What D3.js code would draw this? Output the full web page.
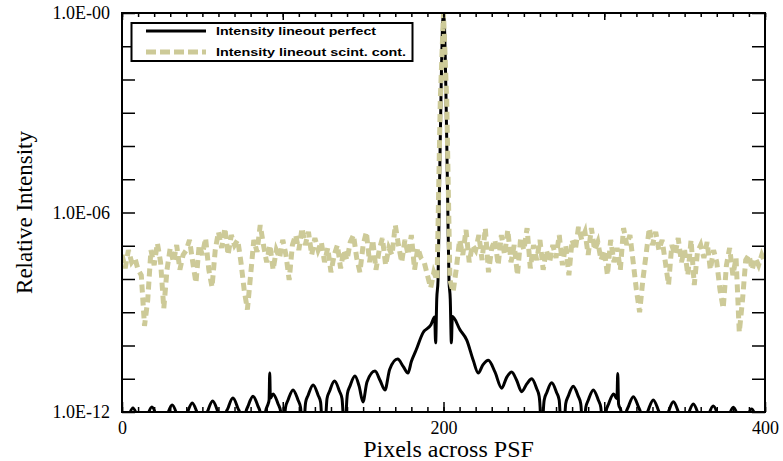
<!DOCTYPE html>
<html>
<head>
<meta charset="utf-8">
<script src="https://cdn.jsdelivr.net/npm/d3@7"></script>
<style>
  html, body { margin: 0; padding: 0; background: #fff; }
  svg { display: block; }
</style>
</head>
<body>
<svg id="chart" width="783" height="461"></svg>
<script>
// Axis definitions
const xDomain = [0, 400];
const yDomain = [1e-12, 1];
const xMinorTicks = d3.range(0, 401, 10);
const xMajorTicks = [0, 100, 200, 300, 400];
const xTickLabels = { 0: "0", 200: "200", 400: "400" };
const yTicks = [1, 1e-1, 1e-2, 1e-3, 1e-4, 1e-5, 1e-6, 1e-7, 1e-8, 1e-9, 1e-10, 1e-11, 1e-12];
const yTickLabels = { 0: "1.0E-00", 6: "1.0E-06", 12: "1.0E-12" };

const xTitle = "Pixels across PSF";
const yTitle = "Relative Intensity";
const seriesNames = ["Intensity lineout perfect", "Intensity lineout scint. cont."];

// Perfect PSF lineout: [pixel, intensity]
const perfect = [
  [0.6,1e-14],[1.4,1.06e-13],[2.15,4.0e-13],[3.7,6.6e-13],[6.8,1.32e-12],[9.9,6.6e-13],[11.45,4.0e-13],[12.2,1.06e-13],[12.6,1e-14],
  [13.2,1.13e-13],[13.95,4.2e-13],[15.5,7.0e-13],[18.6,1.41e-12],[21.7,7.0e-13],[23.25,4.2e-13],[24.0,1.13e-13],[24.9,1e-14],
  [25.8,1.3e-13],[26.55,4.9e-13],[28.1,8.1e-13],[31.2,1.62e-12],[34.3,8.1e-13],[35.85,4.9e-13],[36.6,1.3e-13],[37.5,1e-14],
  [38.3,1.5e-13],[39.05,5.6e-13],[40.6,9.3e-13],[43.7,1.86e-12],[46.8,9.3e-13],[48.35,5.6e-13],[49.1,1.5e-13],[50.0,1e-14],
  [51.0,1.7e-13],[51.75,6.4e-13],[53.3,1.07e-12],[56.4,2.14e-12],[59.5,1.07e-12],[61.05,6.4e-13],[61.8,1.7e-13],[62.7,1e-14],
  [63.6,2.1e-13],[64.35,7.9e-13],[65.9,1.3e-12],[69.0,2.63e-12],[72.1,1.3e-12],[73.65,7.9e-13],[74.4,2.1e-13],[75.2,1e-14],
  [76.1,2.4e-13],[76.85,9.0e-13],[78.4,1.5e-12],[81.5,3.0e-12],[84.6,1.5e-12],[86.15,9.0e-13],[86.9,2.4e-13],[87.7,1e-14],
  [88.6,2.8e-13],[89.35,1.05e-12],[90.9,1.75e-12],[91.5,2.3e-12],[91.9,1.48e-11],[92.3,2.6e-12],[94.0,3.5e-12],[97.1,1.75e-12],[98.65,1.05e-12],[99.4,2.8e-13],[100.2,1e-14],
  [101.0,3.7e-13],[101.75,1.38e-12],[103.3,2.3e-12],[106.4,4.6e-12],[109.5,2.3e-12],[111.05,1.38e-12],[111.8,3.7e-13],[112.6,1e-14],
  [113.5,5.2e-13],[114.25,1.95e-12],[115.8,3.2e-12],[118.9,6.5e-12],[122.0,3.2e-12],[123.55,1.95e-12],[124.3,5.2e-13],[125.6,1e-14],
  [126.8,6.8e-13],[127.55,2.55e-12],[129.1,4.2e-12],[132.2,8.5e-12],[135.3,4.2e-12],[136.85,2.55e-12],[137.6,6.8e-13],[138.7,1e-14],
  [139.5,9.6e-13],[140.25,3.6e-12],[141.8,6.0e-12],[144.9,1.2e-11],[147.5,6.0e-12],[149.9,2.0e-12],
  [152.4,8.0e-12],[157.4,1.7e-11],[160.5,9.0e-12],[163.6,4.6e-12],
  [166.5,1.9e-11],[171.5,3.9e-11],[175.0,2.3e-11],[177.9,1.48e-11],
  [180.0,3.3e-11],[182.9,7.2e-11],[187.2,2.4e-10],[192.2,4.2e-10],[194.5,7.2e-10],[195.1,1.2e-10],
  [195.8,2.5e-9],[196.6,9.3e-9],[197.4,2.4e-6],[198.4,2.4e-3],[199.4,0.4],[200.0,1],
  [200.6,0.4],[201.6,2.4e-3],[202.6,2.4e-6],[203.4,9.3e-9],[204.2,2.5e-9],[204.9,1.2e-10],
  [205.5,7.4e-10],[210.3,2.95e-10],[214.4,1.48e-10],[218.5,3.6e-11],[221.6,1.48e-11],
  [224.5,2.6e-11],[227.9,3.6e-11],[232.0,1.6e-11],[236.2,5.2e-12],
  [239.3,1.1e-11],[242.4,1.6e-11],[245.5,9.0e-12],[248.6,4.1e-12],
  [251.8,7.0e-12],[254.9,1.0e-11],[258.0,5.0e-12],[259.5,3.0e-12],[260.3,8.0e-13],[261.1,1e-14],
  [261.9,6.1e-13],[262.65,2.3e-12],[264.2,3.8e-12],[267.3,7.6e-12],[270.4,3.8e-12],[271.95,2.3e-12],[272.7,6.1e-13],[274.0,1e-14],
  [275.3,4.8e-13],[276.05,1.8e-12],[277.6,3.0e-12],[280.7,6.0e-12],[283.8,3.0e-12],[285.35,1.8e-12],[286.1,4.8e-13],[287.0,1e-14],
  [287.8,3.7e-13],[288.55,1.38e-12],[290.1,2.3e-12],[293.2,4.6e-12],[296.3,2.3e-12],[297.85,1.38e-12],[298.6,3.7e-13],[299.5,1e-14],
  [300.4,2.8e-13],[301.15,1.05e-12],[302.7,1.75e-12],[305.8,3.5e-12],[307.9,2.5e-12],[308.4,1.45e-11],[308.9,1.75e-12],[310.45,1.05e-12],[311.2,2.8e-13],[312.0,1e-14],
  [312.7,2.3e-13],[313.45,8.7e-13],[315.0,1.45e-12],[318.1,2.9e-12],[321.2,1.45e-12],[322.75,8.7e-13],[323.5,2.3e-13],[324.3,1e-14],
  [325.1,1.84e-13],[325.85,6.9e-13],[327.4,1.15e-12],[330.5,2.3e-12],[333.6,1.15e-12],[335.15,6.9e-13],[335.9,1.84e-13],[336.7,1e-14],
  [337.6,1.63e-13],[338.35,6.1e-13],[339.9,1.0e-12],[343.0,2.04e-12],[346.1,1.0e-12],[347.65,6.1e-13],[348.4,1.63e-13],[349.2,1e-14],
  [350.0,1.4e-13],[350.75,5.2e-13],[352.3,8.7e-13],[355.4,1.74e-12],[358.5,8.7e-13],[360.05,5.2e-13],[360.8,1.4e-13],[361.6,1e-14],
  [362.4,1.2e-13],[363.15,4.5e-13],[364.7,7.6e-13],[367.8,1.51e-12],[370.9,7.6e-13],[372.45,4.5e-13],[373.2,1.2e-13],[374.0,1e-14],
  [374.9,1.1e-13],[375.65,4.1e-13],[377.2,6.9e-13],[380.3,1.38e-12],[383.4,6.9e-13],[384.95,4.1e-13],[385.7,1.1e-13],[386.0,1e-14],
  [386.3,9.8e-14],[387.05,3.7e-13],[388.6,6.2e-13],[391.7,1.23e-12],[394.8,6.2e-13],[396.35,3.7e-13],[397.1,9.8e-14],[397.5,1e-14],
  [400.0,4e-13]
];

// Scintillator-contaminated lineout, one sample every 2 pixels from 0 to 400
const scintStep = 2;
const scint = [
  5.3e-8,2.1e-8,7.4e-8,3.2e-8,4.3e-8,1.9e-8,
  1.3e-8,3.9e-10,2.3e-9,
  7.4e-8,2.6e-8,1.2e-7,3.2e-8,
  1.3e-9,1.9e-8,
  8.6e-8,3.2e-8,1.05e-7,1.9e-8,5.3e-8,7.4e-8,
  1.5e-7,3.2e-8,7.6e-9,1.05e-7,5.3e-8,1.7e-7,1.9e-8,5.7e-9,7.4e-8,
  2.6e-7,8.6e-8,3.4e-7,5.3e-8,2.1e-7,1.05e-7,1.5e-7,
  3.2e-8,4.7e-9,1.2e-9,1.3e-8,
  1.5e-7,6.5e-8,4.2e-7,1.05e-7,
  3.2e-8,1.05e-7,1.9e-8,7.4e-8,4.3e-8,1.5e-7,
  5.3e-8,9.3e-9,1.05e-7,2.1e-7,7.4e-8,3.4e-7,
  1.05e-7,2.6e-7,5.3e-8,1.7e-7,7.4e-8,1.3e-7,
  3.2e-8,8.6e-8,1.6e-8,5.3e-8,1.05e-7,2.1e-8,7.4e-8,3.7e-8,1.3e-7,
  2.1e-7,4.3e-8,1.6e-8,1.05e-7,2.6e-7,3.2e-8,
  1.5e-7,1.9e-8,7.4e-8,1.7e-7,2.6e-8,8.6e-8,5.3e-8,
  4.2e-7,1.05e-7,3.2e-8,1.5e-7,5.3e-8,2.1e-7,1.9e-8,8.6e-8,4.3e-8,
  3.2e-8,1.3e-8,5.4e-9,1.6e-8,
  9.3e-9,2.4e-3,1,2.4e-3,9.3e-9,
  4.1e-9,2.1e-8,
  1.5e-7,5.3e-8,3.0e-7,3.2e-8,1.05e-7,7.4e-8,2.1e-7,
  3.7e-8,3.4e-7,1.6e-8,8.6e-8,1.5e-7,2.6e-8,2.1e-7,5.3e-8,
  3.0e-7,3.2e-8,1.05e-7,1.3e-8,1.7e-7,7.4e-8,3.4e-7,2.1e-8,1.05e-7,
  3.7e-8,1.5e-7,1.9e-8,7.4e-8,3.2e-8,1.05e-7,4.3e-8,
  2.1e-7,2.6e-8,1.05e-7,1.3e-8,1.5e-7,7.4e-8,3.7e-7,
  1.5e-7,2.6e-7,5.3e-8,3.4e-7,7.4e-8,1.3e-7,3.7e-8,
  7.4e-8,1.3e-8,1.5e-7,3.2e-8,8.6e-8,1.9e-8,
  3.4e-7,1.05e-7,2.1e-7,
  3.2e-8,4.7e-9,1.0e-9,9.3e-9,5.3e-8,
  3.4e-7,1.05e-7,2.6e-7,7.4e-8,1.5e-7,
  3.2e-8,6.6e-9,1.05e-7,5.3e-8,1.7e-7,3.2e-8,7.4e-8,1.3e-8,1.5e-7,6.6e-9,6.5e-8,1.05e-7,
  4.3e-8,1.3e-7,1.9e-8,7.4e-8,3.2e-8,
  4.7e-9,1.3e-9,
  2.6e-8,8.6e-8,1.3e-8,4.3e-8,
  2.5e-10,2.3e-9,
  3.7e-8,5.3e-8,1.9e-8,4.3e-8,2.6e-8,5.3e-8,3.2e-8
];

const colors = { perfect: "#000000", scint: "#cdca98" };
const serifFont = "'Liberation Serif', 'Times New Roman', serif";

const svg = d3.select("#chart");
const margin = { left: 122, right: 18, top: 13, bottom: 49 };
const W = 783, H = 461;
const x = d3.scaleLinear().domain(xDomain).range([margin.left, W - margin.right]);
const y = d3.scaleLog().domain(yDomain).range([H - margin.bottom, margin.top]);
const x0 = x.range()[0], x1 = x.range()[1], yTop = y.range()[1], yBot = y.range()[0];

svg.append("rect").attr("width", W).attr("height", H).attr("fill", "#fff");

svg.append("clipPath").attr("id", "plot-clip")
  .append("rect").attr("x", x0).attr("y", yTop).attr("width", x1 - x0).attr("height", yBot - yTop);

const plot = svg.append("g").attr("clip-path", "url(#plot-clip)");

const linePerfect = d3.line()
  .x(d => x(d[0])).y(d => y(d[1]))
  .curve(d3.curveMonotoneX);

plot.append("path")
  .datum(perfect)
  .attr("d", linePerfect)
  .attr("fill", "none")
  .attr("stroke", colors.perfect)
  .attr("stroke-width", 3)
  .attr("stroke-linejoin", "round");

const lineScint = d3.line()
  .x((d, i) => x(i * scintStep)).y(d => y(d));

plot.append("path")
  .datum(scint)
  .attr("d", lineScint)
  .attr("fill", "none")
  .attr("stroke", colors.scint)
  .attr("stroke-width", 5)
  .attr("stroke-dasharray", "8,5");

// Axes with inward ticks
function styleAxis(g) {
  g.attr("font-family", serifFont).attr("font-size", 18);
  g.select(".domain").remove();
  g.selectAll(".tick line").attr("stroke", "#000").attr("stroke-width", 1.5);
  g.selectAll(".tick text").attr("fill", "#000");
}

svg.append("g").attr("transform", `translate(0,${yBot})`)
  .call(d3.axisBottom(x).tickValues(xMinorTicks).tickSize(-5).tickFormat(""))
  .call(styleAxis);
svg.append("g").attr("transform", `translate(0,${yBot})`)
  .call(d3.axisBottom(x).tickValues(xMajorTicks).tickSize(-10).tickPadding(9)
    .tickFormat(d => xTickLabels[d] || ""))
  .call(styleAxis);
svg.append("g").attr("transform", `translate(0,${yTop})`)
  .call(d3.axisTop(x).tickValues(xMinorTicks).tickSize(-4).tickFormat(""))
  .call(styleAxis);
svg.append("g").attr("transform", `translate(0,${yTop})`)
  .call(d3.axisTop(x).tickValues(xMajorTicks).tickSize(-7).tickFormat(""))
  .call(styleAxis);
svg.append("g").attr("transform", `translate(${x0},0)`)
  .call(d3.axisLeft(y).tickValues(yTicks).tickSize(-13).tickPadding(12)
    .tickFormat((d, i) => yTickLabels[i] || ""))
  .call(styleAxis);
svg.append("g").attr("transform", `translate(${x1},0)`)
  .call(d3.axisRight(y).tickValues(yTicks).tickSize(-13).tickFormat(""))
  .call(styleAxis);

// Frame
svg.append("rect")
  .attr("x", x0).attr("y", yTop).attr("width", x1 - x0).attr("height", yBot - yTop)
  .attr("fill", "none").attr("stroke", "#000").attr("stroke-width", 2);

// Axis titles
svg.append("text")
  .attr("x", (x0 + x1) / 2 + 5).attr("y", 457)
  .attr("text-anchor", "middle")
  .attr("font-family", serifFont).attr("font-size", 24)
  .text(xTitle);
svg.append("text")
  .attr("transform", `translate(32,${(yTop + yBot) / 2}) rotate(-90)`)
  .attr("text-anchor", "middle")
  .attr("font-family", serifFont).attr("font-size", 23)
  .text(yTitle);

// Legend
const legend = svg.append("g");
legend.append("rect")
  .attr("x", 131.5).attr("y", 23).attr("width", 281).attr("height", 38)
  .attr("fill", "#fff").attr("stroke", "#000").attr("stroke-width", 2);
const legendRows = [
  { name: seriesNames[0], color: colors.perfect, width: 3, dash: null, ly: 31, tw: 160 },
  { name: seriesNames[1], color: colors.scint, width: 5, dash: "10,4", ly: 52, tw: 190 }
];
legendRows.forEach(r => {
  legend.append("line")
    .attr("x1", 146).attr("x2", 206).attr("y1", r.ly).attr("y2", r.ly)
    .attr("stroke", r.color).attr("stroke-width", r.width)
    .attr("stroke-dasharray", r.dash);
  legend.append("text")
    .attr("x", 216).attr("y", r.ly + 3.5)
    .attr("font-family", "'Liberation Sans', Arial, sans-serif")
    .attr("font-weight", "bold").attr("font-size", 10.5)
    .attr("textLength", r.tw).attr("lengthAdjust", "spacingAndGlyphs")
    .text(r.name);
});
</script>
</body>
</html>
